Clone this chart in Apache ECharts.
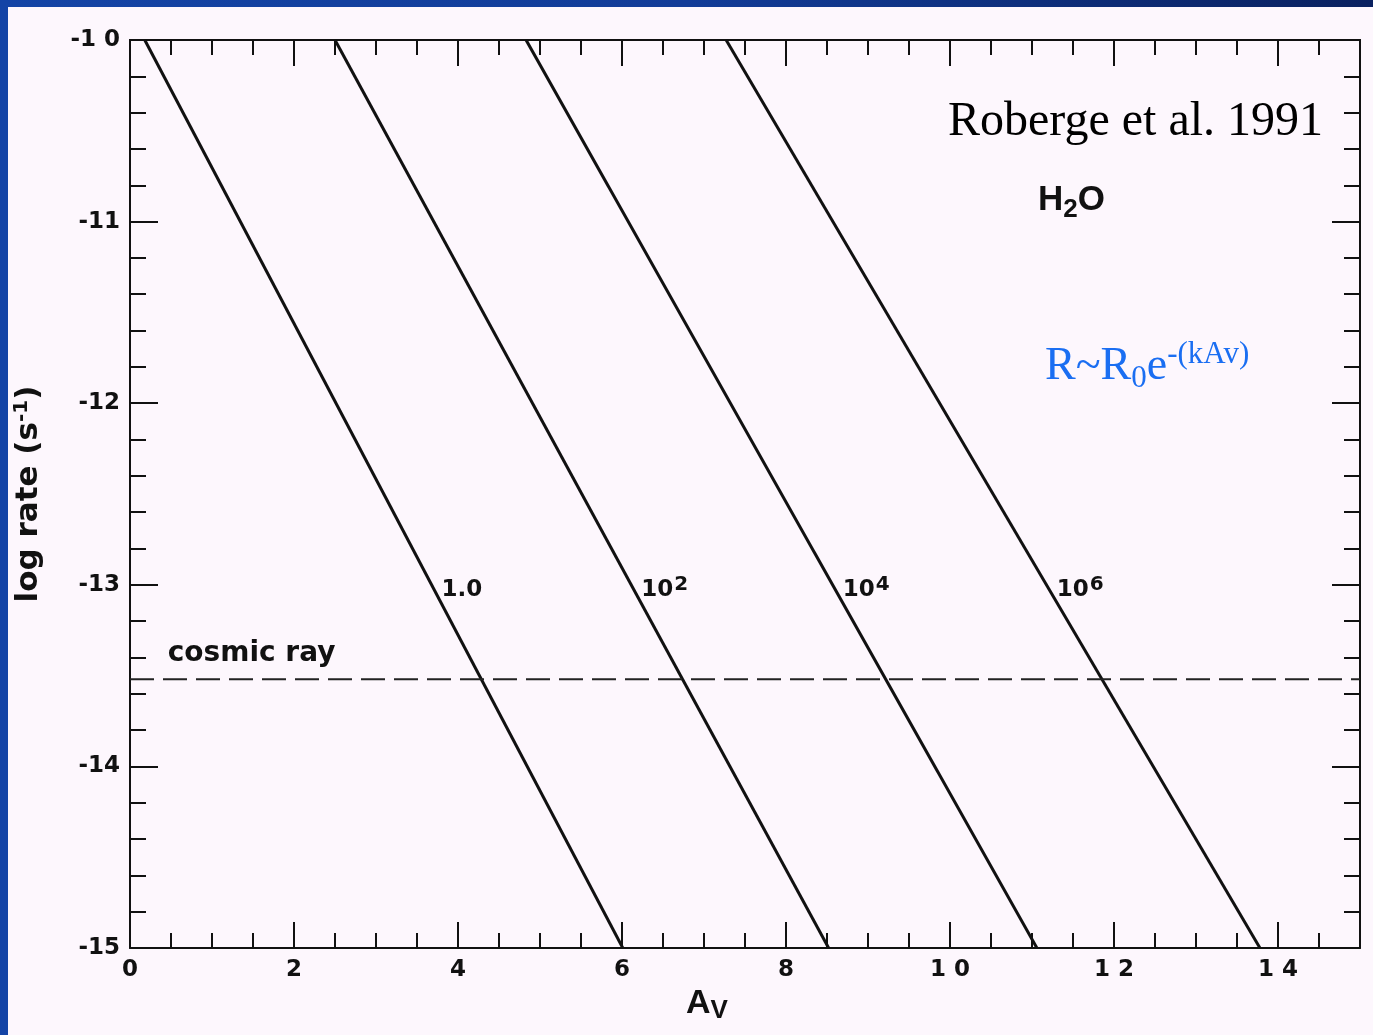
<!DOCTYPE html>
<html>
<head>
<meta charset="utf-8">
<script src="https://cdn.jsdelivr.net/npm/echarts@6/dist/echarts.min.js"></script>
<style>
    html, body {
        margin: 0;
        padding: 0;
        width: 1373px;
        height: 1035px;
        overflow: hidden;
        background: linear-gradient(90deg, #1444a6 0%, #123c98 50%, #0a2160 100%);
    }
    #Rate {
        position: absolute;
        left: 8px;
        top: 7px;
        width: 1365px;
        height: 1028px;
    }
</style>
</head>
<body>
<div id="Rate"></div>
<script>
// photodesorption rate lines, log rate vs A_V (Roberge et al. 1991)
var rateLabels = ['1.0', '10{sup|2}', '10{sup|4}', '10{sup|6}'];
var avAtTop = [0.18, 2.5, 4.83, 7.27];      // A_V where line hits log rate = -10
var avAtBottom = [6.01, 8.52, 11.06, 13.78]; // A_V where line hits log rate = -15
var rateTop = -10;
var rateBottom = -15;
var cosmicRay = -13.52;
var xTickLabels = { 0: '0', 2: '2', 4: '4', 6: '6', 8: '8', 10: '1 0', 12: '1 2', 14: '1 4' };
var yTickLabels = { '-15': '-15', '-14': '-14', '-13': '-13', '-12': '-12', '-11': '-11', '-10': '-1 0' };

var chartDom = document.getElementById('Rate');
var myChart = echarts.init(chartDom);

var ink = '#111';
var sans = 'DejaVu Sans';
var labelLevel = -13.03;

// A_V of a line at a given log rate
function avAt(i, y) {
    return avAtTop[i] + (rateTop - y) / (rateTop - rateBottom) * (avAtBottom[i] - avAtTop[i]);
}

var series = [];
for (var i = 0; i < rateLabels.length; i++) {
    series.push({
        type: 'line',
        symbol: 'none',
        silent: true,
        lineStyle: { color: ink, width: 3 },
        data: [[avAtTop[i], rateTop], [avAtBottom[i], rateBottom]],
        markPoint: {
            symbol: 'circle',
            symbolSize: 0,
            silent: true,
            label: {
                show: true,
                position: 'right',
                distance: 7,
                formatter: rateLabels[i],
                color: ink,
                fontFamily: sans,
                fontWeight: 'bold',
                fontSize: 23,
                rich: {
                    sup: { fontSize: 20, fontWeight: 'bold', fontFamily: sans, color: ink, verticalAlign: 'top', padding: [0, 0, 10, 1] }
                }
            },
            data: [{ coord: [avAt(i, labelLevel), labelLevel] }]
        }
    });
}

series.push({
    type: 'line',
    symbol: 'none',
    silent: true,
    lineStyle: { color: '#222', width: 2, type: [24, 9] },
    data: [[0, cosmicRay], [15, cosmicRay]],
    markPoint: {
        symbol: 'circle',
        symbolSize: 0,
        silent: true,
        label: {
            show: true,
            position: 'top',
            align: 'left',
            distance: 12,
            formatter: 'cosmic ray',
            color: ink,
            fontFamily: sans,
            fontWeight: 'bold',
            fontSize: 28
        },
        data: [{ coord: [0.46, cosmicRay] }]
    }
});

function xAxisOf(pos, interval, tickLen, withLabels) {
    return {
        type: 'value',
        position: pos,
        min: 0,
        max: 15,
        interval: interval,
        axisLine: { show: withLabels || pos === 'top', onZero: false, lineStyle: { color: ink, width: 2 } },
        axisTick: { show: true, inside: true, length: tickLen, lineStyle: { color: ink, width: 2 } },
        axisLabel: {
            show: withLabels,
            margin: 11,
            color: ink,
            fontFamily: sans,
            fontWeight: 'bold',
            fontSize: 23,
            formatter: function (v) {
                return xTickLabels[v] !== undefined ? xTickLabels[v] : '';
            }
        },
        splitLine: { show: false }
    };
}

function yAxisOf(pos, withLabels) {
    return {
        type: 'value',
        position: pos,
        min: rateBottom,
        max: rateTop,
        interval: 1,
        axisLine: { show: true, onZero: false, lineStyle: { color: ink, width: 2 } },
        axisTick: { show: true, inside: true, length: 28, lineStyle: { color: ink, width: 2 } },
        minorTick: { show: true, splitNumber: 5, length: 16, lineStyle: { color: ink, width: 2 } },
        axisLabel: {
            show: withLabels,
            margin: 10,
            color: ink,
            fontFamily: sans,
            fontWeight: 'bold',
            fontSize: 23,
            formatter: function (v) {
                return yTickLabels[String(v)] || '';
            }
        },
        splitLine: { show: false },
        minorSplitLine: { show: false },
        name: withLabels ? 'log rate (s{sup|-1})' : '',
        nameLocation: 'middle',
        nameGap: 84,
        nameRotate: 90,
        nameTextStyle: {
            color: ink,
            fontFamily: sans,
            fontWeight: 'bold',
            fontSize: 31,
            rich: {
                sup: { fontSize: 20, fontWeight: 'bold', fontFamily: sans, color: ink, verticalAlign: 'top', padding: [0, 0, 14, 0] }
            }
        }
    };
}

var xMain = xAxisOf('bottom', 0.5, 15, true);
xMain.name = 'A{sub|V}';
xMain.nameLocation = 'middle';
xMain.nameGap = 36;
xMain.nameTextStyle = {
    color: ink,
    fontFamily: 'Liberation Sans',
    fontWeight: 'bold',
    fontSize: 34,
    padding: [0, 76, 0, 0],
    rich: {
        sub: { fontSize: 26, fontWeight: 'bold', fontFamily: 'Liberation Sans', color: ink, verticalAlign: 'bottom', padding: [14, 0, 0, 0] }
    }
};

const option = {
    backgroundColor: '#fdf7fd',
    animation: false,
    grid: {
        left: 122,
        top: 33,
        right: 13,
        bottom: 87,
        outerBoundsMode: 'none'
    },
    xAxis: [
        xMain,
        xAxisOf('bottom', 2, 26, false),
        xAxisOf('top', 0.5, 15, false),
        xAxisOf('top', 2, 26, false)
    ],
    yAxis: [
        yAxisOf('left', true),
        yAxisOf('right', false)
    ],
    graphic: [
        {
            type: 'text',
            left: 940,
            top: 91,
            style: {
                text: 'Roberge et al. 1991',
                fill: '#000',
                font: '48px "Liberation Serif"'
            }
        },
        {
            type: 'text',
            left: 1030,
            top: 176,
            style: {
                text: 'H{sub|2}O',
                fill: ink,
                font: 'bold 35px "Liberation Sans"',
                rich: {
                    sub: { fontSize: 26, fontWeight: 'bold', fontFamily: 'Liberation Sans', fill: ink, verticalAlign: 'bottom', padding: [18, 0, 0, 0] }
                }
            }
        },
        {
            type: 'text',
            left: 1037,
            top: 332,
            style: {
                text: 'R~R{sub|0}e{sup|-(kAv)}',
                fill: '#1a6ef2',
                font: '46px "Liberation Serif"',
                rich: {
                    sub: { fontSize: 31, fontFamily: 'Liberation Serif', fill: '#1a6ef2', verticalAlign: 'bottom', padding: [24, 0, 0, 0] },
                    sup: { fontSize: 31, fontFamily: 'Liberation Serif', fill: '#1a6ef2', verticalAlign: 'top', padding: [0, 0, 20, 0] }
                }
            }
        }
    ],
    series: series
};

option && myChart.setOption(option);
</script>
</body>
</html>
